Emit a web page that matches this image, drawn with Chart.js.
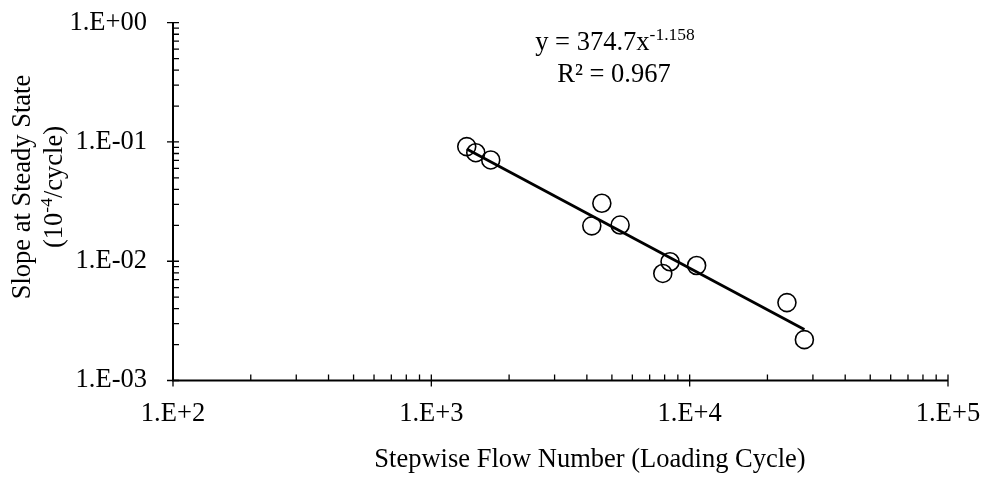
<!DOCTYPE html>
<html>
<head>
<meta charset="utf-8">
<script src="https://cdn.jsdelivr.net/npm/chart.js@4.4.1/dist/chart.umd.min.js"></script>
<style>
  html, body { margin: 0; padding: 0; background: #fff; }
  #wrap { width: 985px; height: 482px; }
</style>
</head>
<body>
<div id="wrap"><canvas id="chart" width="985" height="482"></canvas></div>
<script>
// loading cycles (x) and steady-state slope (y)
const cycles = [1371, 1486, 1698, 4571, 4180, 5380, 8395, 7870, 10640, 23800, 27800];
const slopes = [0.0914, 0.0813, 0.0707, 0.0306, 0.0198, 0.0201, 0.0099, 0.0079, 0.0092, 0.0045, 0.0022];

// power trendline end points
const trendX = [1371, 27800];
const trendY = [0.0873, 0.00268];

const xTicks = [1e2, 1e3, 1e4, 1e5];
const xTickLabels = ['1.E+2', '1.E+3', '1.E+4', '1.E+5'];
const yTicks = [1e-3, 1e-2, 1e-1, 1e0];
const yTickLabels = ['1.E-03', '1.E-02', '1.E-01', '1.E+00'];

const xTitle = 'Stepwise Flow Number (Loading Cycle)';
const yTitle1 = 'Slope at Steady State';
const yTitle2 = ['(10', '-4', '/cycle)'];
const eqText = 'y = 374.7x';
const eqExp = '-1.158';
const r2Text = 'R² = 0.967';

const FONT = '"Liberation Serif", "Times New Roman", serif';
const FS = 26.5;
const SUP = 17.5;

// no extra room for label overflow, the layout padding is enough
const noPad = s => { s.paddingTop = s.paddingBottom = s.paddingLeft = s.paddingRight = 0; };

// axis lines, major (crossing) and minor (inside) ticks, titles, equation
const axisPlugin = {
  id: 'axisPlugin',
  afterDraw(chart) {
    const { ctx, chartArea: a, scales: { x, y } } = chart;
    ctx.save();
    ctx.strokeStyle = '#000';
    ctx.lineWidth = 2;
    ctx.beginPath();
    ctx.moveTo(a.left, a.top);
    ctx.lineTo(a.left, a.bottom);
    ctx.lineTo(a.right, a.bottom);
    ctx.stroke();
    ctx.lineWidth = 1.3;
    ctx.beginPath();
    for (let e = 2; e <= 5; e++) {
      const px = x.getPixelForValue(Math.pow(10, e));
      ctx.moveTo(px, a.bottom - 6); ctx.lineTo(px, a.bottom + 6);
      if (e < 5) for (let m = 2; m <= 9; m++) {
        const p = x.getPixelForValue(m * Math.pow(10, e));
        ctx.moveTo(p, a.bottom); ctx.lineTo(p, a.bottom - 6);
      }
    }
    for (let e = -3; e <= 0; e++) {
      const py = y.getPixelForValue(Math.pow(10, e));
      ctx.moveTo(a.left - 6, py); ctx.lineTo(a.left + 6, py);
      if (e < 0) for (let m = 2; m <= 9; m++) {
        const p = y.getPixelForValue(m * Math.pow(10, e));
        ctx.moveTo(a.left, p); ctx.lineTo(a.left + 6, p);
      }
    }
    ctx.stroke();

    ctx.fillStyle = '#000';
    const big = FS + 'px ' + FONT;
    const small = SUP + 'px ' + FONT;

    // x title
    ctx.font = big;
    ctx.textAlign = 'center';
    ctx.textBaseline = 'alphabetic';
    ctx.fillText(xTitle, 590, 467);

    // y title (two lines, rotated)
    ctx.save();
    ctx.translate(0, 187);
    ctx.rotate(-Math.PI / 2);
    ctx.textBaseline = 'middle';
    ctx.textAlign = 'center';
    ctx.font = big;
    ctx.fillText(yTitle1, 0, 23);
    const wa = ctx.measureText(yTitle2[0]).width;
    const wc = ctx.measureText(yTitle2[2]).width;
    ctx.font = small;
    const wb = ctx.measureText(yTitle2[1]).width;
    let sx = -(wa + wb + wc) / 2;
    ctx.textAlign = 'left';
    ctx.font = big;
    ctx.fillText(yTitle2[0], sx, 55);
    ctx.font = small;
    ctx.fillText(yTitle2[1], sx + wa, 55 - 8);
    ctx.font = big;
    ctx.fillText(yTitle2[2], sx + wa + wb, 55);
    ctx.restore();

    // trendline equation
    ctx.textBaseline = 'alphabetic';
    ctx.textAlign = 'left';
    ctx.font = big;
    const w1 = ctx.measureText(eqText).width;
    ctx.font = small;
    const w2 = ctx.measureText(eqExp).width;
    const ex = 615 - (w1 + w2) / 2;
    ctx.font = big;
    ctx.fillText(eqText, ex, 50);
    ctx.font = small;
    ctx.fillText(eqExp, ex + w1, 40);
    ctx.font = big;
    ctx.textAlign = 'center';
    ctx.fillText(r2Text, 614, 82);
    ctx.restore();
  }
};

new Chart(document.getElementById('chart'), {
  type: 'scatter',
  data: {
    datasets: [
      {
        label: 'data',
        data: cycles.map((c, i) => ({ x: c, y: slopes[i] })),
        pointStyle: 'circle',
        pointRadius: 9,
        pointBorderWidth: 1.6,
        pointBorderColor: '#000',
        pointBackgroundColor: 'rgba(0,0,0,0)',
        showLine: false
      },
      {
        label: 'trend',
        data: trendX.map((c, i) => ({ x: c, y: trendY[i] })),
        showLine: true,
        borderColor: '#000',
        borderWidth: 2.8,
        pointRadius: 0
      }
    ]
  },
  options: {
    responsive: false,
    animation: false,
    layout: { padding: { top: 22.7, right: 37, left: 0, bottom: 0 } },
    plugins: { legend: { display: false }, tooltip: { enabled: false } },
    scales: {
      x: {
        type: 'logarithmic',
        min: 1e2, max: 1e5,
        afterBuildTicks: s => { s.ticks = xTicks.map(v => ({ value: v })); },
        afterFit: s => { s.height = 101.5; noPad(s); },
        ticks: {
          color: '#000', font: { family: FONT, size: FS }, padding: 10,
          maxRotation: 0, autoSkip: false,
          callback: (v) => xTickLabels[xTicks.indexOf(v)]
        },
        grid: { display: false },
        border: { display: false }
      },
      y: {
        type: 'logarithmic',
        min: 1e-3, max: 1e0,
        afterBuildTicks: s => { s.ticks = yTicks.map(v => ({ value: v })); },
        afterFit: s => { s.width = 173; noPad(s); },
        ticks: {
          color: '#000', font: { family: FONT, size: FS }, padding: 18,
          autoSkip: false,
          callback: (v) => yTickLabels[yTicks.indexOf(v)]
        },
        grid: { display: false },
        border: { display: false }
      }
    }
  },
  plugins: [axisPlugin]
});
</script>
</body>
</html>
